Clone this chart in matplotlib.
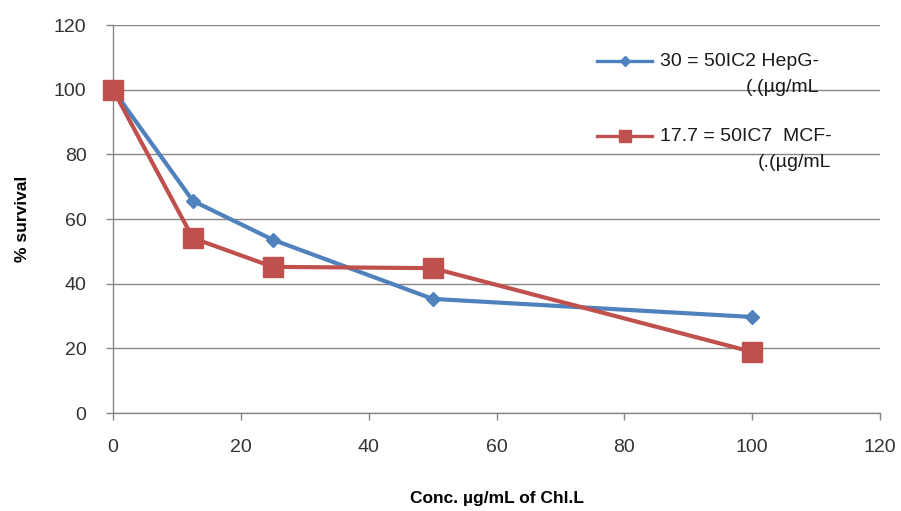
import matplotlib.pyplot as plt
from matplotlib.lines import Line2D

# Survival data (% of control) vs concentration (µg/mL)
conc = [0, 12.5, 25, 50, 100]
hepg2_survival = [100, 65.6, 53.6, 35.3, 29.7]
mcf7_survival = [100, 54.1, 45.2, 44.8, 18.9]

hepg2_label = "30 = 50IC2 HepG-\n(.(µg/mL"
mcf7_label = "17.7 = 50IC7  MCF-\n(.(µg/mL"

x_ticks = [0, 20, 40, 60, 80, 100, 120]
y_ticks = [0, 20, 40, 60, 80, 100, 120]

blue = "#4F81BD"
red = "#C0504D"
grid_gray = "#868686"

plt.rcParams['font.family'] = ['Liberation Sans', 'DejaVu Sans']

W, H = 901, 511
fig = plt.figure(figsize=(W / 100, H / 100), dpi=100)
ax = fig.add_axes([113 / W, 1 - 413 / H, (880 - 113) / W, (413 - 25) / H])

ax.plot(conc, hepg2_survival, color=blue, lw=3, marker='D', ms=7.5,
        markerfacecolor=blue, markeredgecolor=blue, zorder=3, clip_on=False)
ax.plot(conc, mcf7_survival, color=red, lw=3, marker='s', ms=14,
        markerfacecolor=red, markeredgecolor=red, zorder=4, clip_on=False)

ax.set_xlim(0, 120)
ax.set_ylim(0, 120)
ax.set_xticks(x_ticks)
ax.set_yticks(y_ticks)
ax.tick_params(axis='both', direction='out', length=5, width=1, color=grid_gray,
               labelsize=14, labelcolor='#333333')
ax.tick_params(axis='x', pad=14)
ax.tick_params(axis='y', pad=14)

ax.yaxis.grid(True, color=grid_gray, lw=1)
ax.set_axisbelow(True)
for side in ['top', 'right']:
    ax.spines[side].set_visible(False)
for side in ['left', 'bottom']:
    ax.spines[side].set_color(grid_gray)
    ax.spines[side].set_linewidth(1)

ax.set_ylabel("% survival", fontsize=12.5, fontweight='bold', labelpad=17)
ax.set_xlabel("Conc. µg/mL of Chl.L", fontsize=12.5, fontweight='bold', labelpad=25)

# Legend entries: handle aligned with the first text line, second line right-aligned
def fx(px):
    return px / W

def fy(py):
    return 1 - py / H

entries = [
    (blue, 'D', 5.5, 61, hepg2_label),
    (red, 's', 8.5, 136, mcf7_label),
]
for color, marker, ms, ypix, label in entries:
    fig.add_artist(Line2D([fx(597), fx(652)], [fy(ypix), fy(ypix)],
                          transform=fig.transFigure, color=color, lw=2.4))
    fig.add_artist(Line2D([fx(624.5)], [fy(ypix)], transform=fig.transFigure,
                          color=color, marker=marker, ms=ms, lw=0))
    fig.text(fx(660), fy(ypix + 13.5), label, ha='left', va='center',
             multialignment='right', fontsize=14, color='#1a1a1a',
             linespacing=1.75)

fig.savefig("out.png", dpi=100)
